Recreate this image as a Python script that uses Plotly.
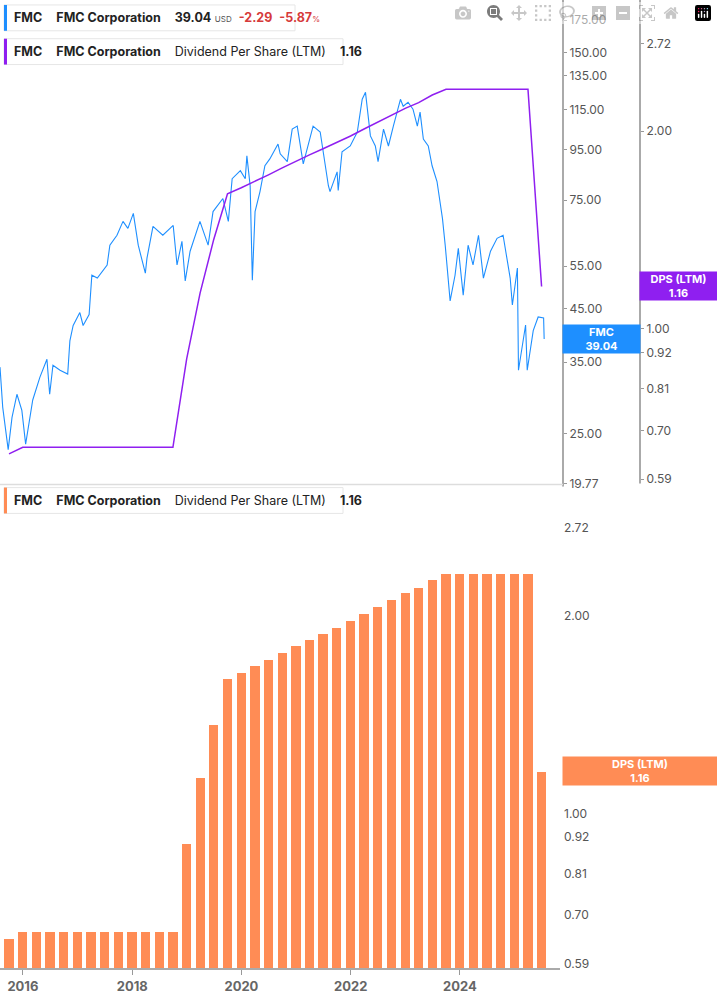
import math
import pandas as pd
import plotly.graph_objects as go

# ---------------- data ----------------
price_years = [2015.58,2015.63,2015.73,2015.80,2015.89,2015.98,2016.05,2016.18,2016.31,2016.44,2016.49,2016.55,2016.68,2016.82,2016.86,2016.92,
2017.04,2017.10,2017.21,2017.26,2017.36,2017.54,2017.59,2017.72,2017.83,2017.92,2018.02,2018.11,2018.24,2018.27,2018.38,2018.56,2018.75,2018.82,
2018.91,2018.97,2019.06,2019.24,2019.39,2019.48,2019.66,2019.76,2019.83,2019.98,2020.07,2020.10,2020.16,2020.20,2020.25,2020.34,2020.43,2020.52,
2020.67,2020.71,2020.84,2020.93,2021.02,2021.13,2021.31,2021.44,2021.59,2021.62,2021.75,2021.77,2021.84,2021.99,2022.12,2022.21,2022.27,2022.36,
2022.45,2022.50,2022.60,2022.69,2022.78,2022.91,2022.96,2023.05,2023.14,2023.22,2023.27,2023.33,2023.42,2023.49,2023.58,2023.68,2023.73,2023.79,
2023.82,2023.91,2023.97,2024.06,2024.15,2024.24,2024.34,2024.43,2024.56,2024.68,2024.79,2024.92,2024.96,2025.05,2025.07,2025.20,2025.23,2025.34,
2025.43,2025.53,2025.54]
price_values = [34.2,28.3,23.2,27.0,30.1,27.9,23.8,29.3,32.6,35.5,30.1,34.5,33.7,33.1,38.7,41.6,
44.2,41.6,43.8,52.7,52.0,55.3,60.7,63.6,67.9,65.7,70.5,60.7,53.2,57.1,66.3,63.6,66.6,55.3,
61.8,51.3,59.0,67.9,60.7,71.1,75.6,67.9,83.0,86.2,83.0,92.4,80.3,51.5,71.1,78.1,88.2,91.1,
97.7,93.3,89.9,104.8,106.3,89.0,106.3,103.4,80.3,78.1,85.7,78.5,94.2,96.8,103.4,120.6,124.6,101.5,
96.8,89.9,104.8,96.8,106.3,120.6,116.7,118.9,115.1,106.3,113.5,100.0,96.8,88.2,81.9,68.8,60.7,50.3,
46.7,52.7,59.8,48.0,60.7,55.3,63.6,52.0,59.0,62.7,63.6,52.0,45.8,54.5,33.7,41.7,33.7,40.6,
43.3,43.1,39.04]

dps_quarters = pd.date_range("2015-09-30", "2025-06-30", freq="QE")
dps_values = [0.645] + [0.66]*12 + [0.90,1.134,1.368,1.606,1.64,1.68,1.716,1.758,1.80,1.84,1.88,1.92,1.966,2.015,2.064,2.115,
2.166,2.21,2.27] + [2.316]*7 + [1.16]

price_ticks = [19.77,25,35,45,55,75,95,115,135,150,175]
dps_ticks = [0.59,0.70,0.81,0.92,1.00,2.00,2.72]
year_ticks = [2016,2018,2020,2022,2024]

last_price = 39.04
last_dps = 1.16

# ---------------- helpers ----------------
def yr_to_date(y):
    yr = int(math.floor(y))
    start = pd.Timestamp(f"{yr}-01-01")
    return start + pd.Timedelta(days=(y - yr) * 365.25)

price_dates = [yr_to_date(y) for y in price_years]

BLUE = "#1e8fff"
PURPLE = "#8f1ff0"
ORANGE = "#ff8c55"
GRAY = "#555555"
FONT = "Inter"

W, H = 717, 1005
xr = [yr_to_date(2015.58), yr_to_date(2025.83)]
xd = [0, 560 / W]

fig = go.Figure()
fig.add_trace(go.Scatter(x=price_dates, y=price_values, mode="lines",
                         line=dict(color=BLUE, width=1.1), xaxis="x", yaxis="y", showlegend=False))
fig.add_trace(go.Scatter(x=dps_quarters, y=dps_values, mode="lines",
                         line=dict(color=PURPLE, width=1.5), xaxis="x", yaxis="y2", showlegend=False))
fig.add_trace(go.Bar(x=dps_quarters, y=dps_values, marker=dict(color=ORANGE, line=dict(width=0)),
                     width=62 * 86400000, xaxis="x2", yaxis="y3", showlegend=False))

tickfont = dict(family=FONT, size=12, color=GRAY)
fig.update_layout(
    width=W, height=H, margin=dict(l=0, r=0, t=0, b=0),
    paper_bgcolor="white", plot_bgcolor="white", bargap=0,
    xaxis=dict(domain=xd, range=xr, anchor="y", showticklabels=False, showgrid=False, zeroline=False, ticks=""),
    xaxis2=dict(domain=xd, range=xr, anchor="y3", showgrid=False, zeroline=False,
                tickvals=[pd.Timestamp(f"{y}-01-01") for y in year_ticks], ticktext=[str(y) for y in year_ticks],
                ticks="outside", ticklen=5, tickcolor="#999", showline=True, linecolor="#aaa", linewidth=2,
                tickfont=dict(family=FONT, size=13, color="#666", weight="bold")),
    yaxis=dict(domain=[1 - 487 / H, 1], type="log", side="right", anchor="free", position=563 / W,
               range=[math.log10(19.77), math.log10(192.4)], showgrid=False, zeroline=False,
               tickvals=price_ticks, ticktext=[f"{v:.2f}" for v in price_ticks],
               ticks="outside", ticklen=3, tickcolor="#999", tickfont=tickfont),
    yaxis2=dict(overlaying="y", type="log", side="right", anchor="free", position=640 / W,
                range=[math.log10(0.581), math.log10(3.168)], showgrid=False, zeroline=False,
                tickvals=dps_ticks, ticktext=[f"{v:.2f}" for v in dps_ticks],
                ticks="outside", ticklen=3, tickcolor="#999", tickfont=tickfont),
    yaxis3=dict(domain=[1 - 975 / H, 1 - 490 / H], type="log", side="right", anchor="free", position=563 / W,
                range=[math.log10(0.581), math.log10(3.147)], showgrid=False, zeroline=False,
                tickvals=dps_ticks, ticktext=[f"{v:.2f}" for v in dps_ticks],
                ticks="", tickfont=tickfont),
)

shapes = [
    dict(type="line", xref="paper", yref="paper", x0=563 / W, x1=563 / W, y0=1 - 490 / H, y1=1, line=dict(color="#aaa", width=2)),
    dict(type="line", xref="paper", yref="paper", x0=640 / W, x1=640 / W, y0=1 - 487 / H, y1=1, line=dict(color="#aaa", width=2)),
    dict(type="line", xref="paper", yref="paper", x0=0, x1=563 / W, y0=1 - 488 / H, y1=1 - 488 / H, line=dict(color="#ddd", width=1.5)),
]

def legend_box(y_top, color, text, width):
    shapes.append(dict(type="rect", xref="paper", yref="paper", x0=4 / W, x1=(4 + width) / W,
                       y0=1 - (y_top + 26) / H, y1=1 - y_top / H, line=dict(color="#e6e6e6", width=1),
                       fillcolor="white", layer="above"))
    shapes.append(dict(type="rect", xref="paper", yref="paper", x0=4 / W, x1=7 / W,
                       y0=1 - (y_top + 26) / H, y1=1 - y_top / H, line=dict(width=0), fillcolor=color, layer="above"))
    fig.add_annotation(xref="paper", yref="paper", x=12 / W, y=1 - (y_top + 13) / H, xanchor="left", yanchor="middle",
                       text=text, showarrow=False, font=dict(family=FONT, size=12.5, color="#222"))

legend_box(5, BLUE, "<b>FMC</b>    <b>FMC Corporation</b>    <b>39.04</b> <span style='font-size:8px;color:#555'>USD</span>  "
           "<span style='color:#d63a3a'><b>-2.29</b>  <b>-5.87</b></span><span style='font-size:8px;color:#d63a3a'>%</span>", 291)
legend_box(39, PURPLE, "<b>FMC</b>    <b>FMC Corporation</b>    Dividend Per Share (LTM)    <b>1.16</b>", 339)
legend_box(491, ORANGE, "<b>FMC</b>    <b>FMC Corporation</b>    Dividend Per Share (LTM)    <b>1.16</b>", 339)

fig.add_annotation(xref="paper", yref="y", x=601.5 / W, y=math.log10(last_price), text="<b>FMC<br>39.04</b>",
                   showarrow=False, bgcolor=BLUE, font=dict(family=FONT, size=11, color="white"),
                   width=75, height=26, xanchor="center", yanchor="middle")
fig.add_annotation(xref="paper", yref="y2", x=678.5 / W, y=math.log10(last_dps), text="<b>DPS (LTM)<br>1.16</b>",
                   showarrow=False, bgcolor=PURPLE, font=dict(family=FONT, size=11, color="white"),
                   width=75, height=26, xanchor="center", yanchor="middle")
fig.add_annotation(xref="paper", yref="y3", x=640 / W, y=math.log10(last_dps), text="<b>DPS (LTM)<br>1.16</b>",
                   showarrow=False, bgcolor=ORANGE, font=dict(family=FONT, size=11, color="white"),
                   width=152, height=26, xanchor="center", yanchor="middle")

fig.update_layout(shapes=shapes)
fig.write_html("out.html", post_script="document.body.style.margin='0';document.body.style.overflow='hidden';")
